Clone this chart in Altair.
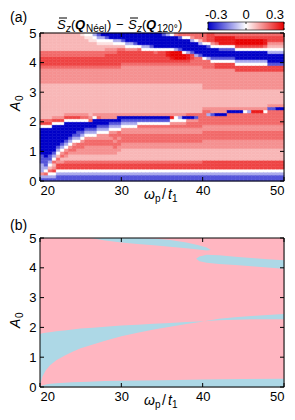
import altair as alt
import pandas as pd

FONT = "Liberation Sans"

# ---------------- axes / scales ----------------
OMEGA_RANGE = [20, 50]
A0_RANGE = [0, 5]
X_TICKS = [20, 30, 40, 50]
Y_TICKS = [0, 1, 2, 3, 4, 5]
CBAR_TICKS = [-0.3, 0.0, 0.3]
CBAR_LABELS = ["-0.3", "0", "0.3"]
CBAR_COLORS = ["#0000c8", "#ffffff", "#e80000"]

# ---------------- panel (a) heat map ----------------
OMEGA_STEP = 0.5   # column width in omega_p/t1
A0_STEP = 0.1      # row height in A0
N_ROWS = 50

LEVELS = {"B": -0.3, "b": -0.2, "c": -0.1, "w": 0.0, "1": 0.035, "2": 0.085,
          "3": 0.13, "4": 0.175, "5": 0.22, "6": 0.27, "7": 0.3}

# lower part shared by the columns between omega 40 and 50 (A0 = 0 ... 2.2)
L40 = "b:2 c:1 w:1 5:3 2:4 3:3 4:3 3:2 4:3"

# one string per omega column (20.0-20.5, 20.5-21.0, ...), cells from A0=0 upward, "level:count"
COLUMNS = [
    "b:1 c:1 3:1 c:3 b:3 B:9 w:1 5:1 4:1 2:12 3:5 4:1 5:3 4:2 2:6",
    "b:1 c:1 4:1 w:1 c:1 b:3 B:10 w:1 5:1 4:1 2:12 3:5 4:1 5:3 4:2 2:6",
    "b:1 c:1 w:1 4:1 2:1 w:1 c:1 b:2 B:9 w:1 5:1 4:1 2:12 3:5 4:1 5:3 4:2 2:6",
    "b:1 c:1 w:1 5:1 3:1 2:1 4:1 w:1 c:1 b:1 B:9 w:1 5:1 3:1 2:11 3:5 4:1 5:3 4:2 2:6",
    "b:2 c:1 w:1 5:2 3:1 4:1 2:1 w:1 c:1 b:1 B:7 w:1 5:1 3:1 2:11 3:5 4:1 5:3 4:2 2:6",
    "b:2 c:1 w:1 5:2 3:1 2:1 4:1 3:1 w:1 c:1 b:1 B:6 w:1 5:1 3:1 2:11 3:5 4:1 5:3 4:2 2:6",
    "b:2 c:1 w:1 5:2 4:1 2:1 3:1 4:1 3:1 w:1 c:1 b:1 B:6 w:1 5:1 3:1 2:10 3:5 4:1 5:3 4:2 2:6",
    "b:2 c:1 w:1 5:2 4:1 2:2 3:1 4:1 3:1 w:1 c:1 b:1 B:5 w:1 5:1 3:1 2:10 3:5 4:1 5:3 4:2 2:6",
    "b:2 c:1 w:1 5:2 4:1 2:2 3:1 4:2 3:1 w:1 c:1 b:1 B:4 w:1 5:1 3:1 2:10 3:5 4:1 5:3 4:2 2:6",
    "b:2 c:1 w:1 5:2 4:1 2:2 3:2 4:2 w:1 c:1 b:2 B:3 w:1 5:1 3:1 2:10 3:5 4:1 5:3 4:2 2:6",
    "b:2 c:1 w:1 5:2 4:1 2:2 3:2 4:2 3:1 w:1 c:1 b:1 B:3 w:1 4:1 3:1 2:10 3:5 4:1 5:3 4:2 2:5 1:1",
    "b:2 c:1 w:1 5:2 4:1 2:2 3:3 4:2 3:1 w:1 c:1 b:1 B:2 w:1 4:1 3:1 2:10 3:5 4:1 5:3 4:2 2:4 1:1 w:1",
    "b:2 c:1 w:1 5:2 4:1 2:2 3:3 4:2 3:1 w:1 c:1 b:1 B:2 4:1 3:1 2:11 3:5 4:1 5:3 4:2 2:3 1:2 w:1",
    "b:2 c:1 w:1 5:2 4:1 2:2 3:3 4:2 3:1 w:1 c:1 b:1 B:3 w:1 3:1 2:10 3:5 4:1 5:3 4:2 2:3 1:1 w:1 c:1",
    "b:2 c:1 w:1 5:2 4:1 2:2 3:3 4:2 3:2 w:1 c:1 b:1 B:2 4:1 3:1 2:10 3:5 4:1 5:3 4:2 2:2 1:1 w:1 c:1 b:1",
    "b:2 c:1 w:1 5:2 4:1 2:2 3:3 4:2 3:2 w:1 c:1 b:1 B:2 3:2 2:10 3:5 4:1 5:3 4:2 2:2 1:1 w:1 c:1 B:1",
    "b:2 c:1 w:1 5:2 4:1 2:2 3:3 4:2 3:2 w:1 c:1 b:1 B:2 3:2 2:10 3:5 4:1 5:4 4:1 3:1 2:1 1:1 w:1 b:1 B:1",
    "b:2 c:1 w:1 5:2 4:1 2:2 3:3 4:2 3:1 4:1 3:1 w:1 c:1 b:1 B:1 3:2 2:10 3:5 4:1 5:4 4:1 3:1 2:1 1:1 w:1 B:2",
    "b:2 c:1 w:1 5:2 4:1 2:2 3:2 4:2 3:1 4:2 3:1 w:1 c:1 b:1 B:1 3:2 2:10 3:5 4:1 5:4 4:1 3:1 2:1 w:1 c:1 B:2",
    "b:2 c:1 w:1 5:2 4:1 2:3 3:2 4:2 3:1 4:2 w:1 c:1 b:1 B:2 3:1 2:10 3:5 4:1 5:5 4:1 2:1 w:1 c:1 B:2",
    "b:2 c:1 w:1 5:2 4:1 2:4 3:2 4:3 3:2 w:1 c:1 b:1 B:1 3:1 2:10 3:6 4:1 5:4 4:1 2:1 w:1 b:1 B:2",
    "b:2 c:1 w:1 5:2 4:1 2:4 3:2 4:3 3:2 w:1 c:1 b:1 B:1 3:1 2:10 3:6 4:1 5:4 3:1 w:1 c:1 B:3",
    "b:2 c:1 w:1 5:2 4:1 2:4 3:2 4:3 3:2 w:1 c:1 b:1 B:1 3:1 2:10 3:6 4:1 5:4 3:1 w:1 c:1 B:3",
    "b:2 c:1 w:1 5:2 4:1 2:4 3:2 4:3 3:2 w:1 c:1 b:1 B:1 3:1 2:10 3:6 4:1 5:4 3:1 w:1 b:1 B:3",
    "b:2 c:1 w:1 5:2 4:1 2:4 3:2 4:3 3:2 4:1 w:1 b:1 B:1 3:1 2:10 3:6 4:1 5:4 4:1 w:1 B:4",
    "b:2 c:1 w:1 5:2 4:1 2:4 3:2 4:3 3:2 4:1 w:1 b:1 B:1 3:1 2:10 3:6 4:1 5:4 w:1 c:1 B:4",
    "b:2 c:1 w:1 5:2 4:1 2:4 3:2 4:3 3:2 4:1 w:1 b:1 B:1 3:1 2:10 3:6 4:1 5:4 w:1 c:1 B:4",
    "b:2 c:1 w:1 5:2 4:1 2:4 3:2 4:3 3:2 4:1 w:1 b:1 B:1 3:1 2:10 3:6 4:1 5:4 w:1 b:1 B:4",
    "b:2 c:1 w:1 5:2 4:1 2:4 3:2 4:3 3:2 4:1 w:1 b:1 B:1 3:1 2:10 3:6 4:1 5:3 4:1 w:1 B:5",
    "b:2 c:1 w:1 5:2 4:1 2:4 3:2 4:3 3:2 4:1 w:1 b:1 B:1 3:1 2:10 3:6 4:1 5:4 w:1 B:5",
    "b:2 c:1 w:1 5:2 4:1 2:4 3:2 4:3 3:2 4:1 w:1 b:1 B:1 3:1 2:10 3:6 4:1 5:4 w:1 B:4 b:1",
    "b:2 c:1 w:1 5:2 4:1 2:4 3:2 4:3 3:2 4:1 w:1 b:1 B:1 3:1 2:10 3:6 4:1 5:2 6:2 w:1 B:4 c:1",
    "b:2 c:1 w:1 5:2 4:1 2:4 3:2 4:3 3:2 4:1 3:1 w:1 6:1 3:1 2:10 3:6 4:1 5:1 6:1 7:2 w:1 B:4 w:1",
    "b:2 c:1 w:1 5:2 4:1 2:4 3:2 4:3 3:2 4:1 3:1 w:2 3:1 2:10 3:6 4:1 5:1 7:3 c:1 B:4 3:1",
    "b:2 c:1 w:1 5:2 4:1 2:4 3:2 4:3 3:2 4:1 3:1 w:1 c:1 3:1 2:10 3:6 4:1 5:1 7:3 b:1 B:3 b:1 4:1",
    "b:2 c:1 w:1 5:2 4:1 2:4 3:2 4:3 3:2 4:1 3:1 w:1 B:1 3:1 2:10 3:6 4:1 5:1 7:2 w:1 B:4 w:1 4:1",
    "b:2 c:1 w:1 5:2 4:1 2:4 3:2 4:3 3:2 4:2 3:1 B:1 4:1 2:10 3:6 4:1 5:1 6:2 c:1 B:4 w:1 4:1",
    "b:2 c:1 w:1 5:2 4:1 2:4 3:2 4:3 3:2 4:2 3:1 B:1 4:1 2:10 3:6 4:2 5:2 b:1 B:3 c:1 3:1 4:1",
    "b:2 c:1 w:1 5:2 4:1 2:4 3:2 4:3 3:2 4:2 3:1 b:1 4:1 2:10 3:6 4:3 c:1 B:4 w:1 4:2",
    "b:2 c:1 w:1 5:2 4:1 2:4 3:2 4:3 3:2 4:4 4:1 2:10 3:6 4:3 b:1 B:3 c:1 2:1 4:2",
    L40 + " 4:2 3:1 2:6 3:7 4:3 w:1 B:4 w:1 4:3",
    L40 + " c:1 4:1 3:1 2:6 3:7 4:3 c:1 B:3 b:1 w:1 5:3",
    L40 + " b:1 3:2 2:6 3:7 4:2 w:1 b:1 B:3 w:1 3:1 5:3",
    L40 + " B:1 3:2 2:6 3:7 5:2 w:1 b:1 B:3 w:1 4:1 6:2 4:1",
    L40 + " B:1 3:2 2:6 3:7 5:2 w:1 b:1 B:2 b:1 w:1 6:3 4:1",
    L40 + " B:1 3:2 2:6 3:7 5:2 w:1 b:1 B:2 b:1 w:1 6:3 4:1",
    L40 + " 4:1 B:1 3:1 2:6 3:7 5:2 w:1 b:1 B:2 b:1 w:1 6:3 4:1",
    L40 + " 4:1 B:1 3:1 2:6 3:7 5:2 w:1 b:1 B:2 b:1 w:1 6:3 4:1",
    L40 + " 4:1 B:1 3:1 2:6 3:6 5:2 w:1 c:1 B:3 w:1 5:1 7:2 5:1 4:1",
    L40 + " 4:1 B:1 3:1 2:6 3:6 5:2 w:1 c:1 B:3 w:1 5:1 7:2 5:1 4:1",
    L40 + " 4:1 w:1 3:1 2:6 3:6 5:2 w:1 c:1 B:3 w:1 5:1 7:2 5:1 4:1",
    L40 + " 4:1 c:1 3:1 2:6 3:6 5:2 w:1 c:1 B:3 w:1 5:1 7:2 5:1 4:1",
    L40 + " 4:1 6:1 3:1 2:6 3:6 5:2 w:1 c:1 B:3 w:1 5:1 7:2 5:1 4:1",
    L40 + " 4:1 6:1 3:1 2:6 3:6 5:2 w:1 c:1 B:3 w:1 5:1 7:2 5:1 4:1",
    L40 + " 4:1 6:1 3:1 2:6 3:6 5:2 w:1 c:1 B:3 w:1 5:1 7:2 5:1 4:1",
    L40 + " 4:1 w:1 3:1 2:6 3:6 5:2 w:1 c:1 B:3 w:1 4:1 6:2 5:1 4:1",
    L40 + " 4:2 b:1 3:1 2:5 3:6 5:2 b:1 B:3 c:1 w:1 2:1 3:1 5:2 4:1",
    L40 + " 4:2 b:1 3:1 2:5 3:6 5:2 b:1 B:3 c:1 w:1 2:1 3:1 5:2 4:1",
    L40 + " 4:2 B:1 3:1 2:5 3:6 5:2 b:1 B:3 c:1 w:1 2:1 3:1 5:2 4:1",
    L40 + " 4:2 B:1 3:1 2:5 3:6 5:2 b:1 B:3 c:1 w:1 2:1 3:1 5:2 4:1",
]

# ---------------- panel (b) blue regions (boundaries) ----------------
PINK = "#ffb6c1"
LBLUE = "#add8e6"
LOWBAND_W = [20, 20.5, 21, 22, 24, 26, 28, 30, 35, 40, 45, 50]
LOWBAND_HI = [0.03, 0.07, 0.1, 0.13, 0.16, 0.18, 0.2, 0.21, 0.23, 0.25, 0.27, 0.28]
WEDGE_W = [20, 20.3, 20.7, 21.2, 22, 23, 24, 25, 26.5, 28, 30, 32, 34, 36, 38, 39.5, 40.2]
WEDGE_LO = [0.05, 0.35, 0.55, 0.72, 0.9, 1.05, 1.18, 1.3, 1.43, 1.55, 1.7, 1.82, 1.93, 2.02, 2.11, 2.17, 2.21]
WEDGE_HI = [1.78, 1.8, 1.82, 1.84, 1.87, 1.9, 1.93, 1.96, 1.99, 2.02, 2.06, 2.09, 2.12, 2.15, 2.18, 2.2, 2.21]
RIGHT_W = [40.2, 42, 44, 46, 48, 50]
RIGHT_LO = [2.21, 2.24, 2.26, 2.27, 2.27, 2.27]
RIGHT_HI = [2.21, 2.29, 2.34, 2.38, 2.42, 2.45]
TOP1_W = [26.2, 28, 30, 32, 34, 36, 38, 39.5, 40.5, 41]
TOP1_LO = [5.0, 4.92, 4.85, 4.8, 4.76, 4.71, 4.66, 4.61, 4.58, 4.6]
TOP1_HI = [5.0, 5.0, 5.0, 5.0, 4.98, 4.93, 4.85, 4.76, 4.68, 4.6]
TOP2_W = [39.2, 39.6, 40.5, 42, 44, 46, 48, 50]
TOP2_LO = [4.3, 4.22, 4.17, 4.13, 4.09, 4.05, 4.01, 3.97]
TOP2_HI = [4.3, 4.38, 4.44, 4.42, 4.37, 4.33, 4.29, 4.25]

# ---------------- layout ----------------
W = 244
HA = 148
HB = 149
TICK = 4

# ---------------- build tables ----------------
heat_rows = []
for k, col in enumerate(COLUMNS):
    cells = []
    for tok in col.split():
        ch, n = tok.split(":")
        cells.extend([ch] * int(n))
    cells = (cells + [cells[-1]] * N_ROWS)[:N_ROWS]
    w0 = OMEGA_RANGE[0] + k * OMEGA_STEP
    for i, ch in enumerate(cells):
        heat_rows.append({"w0": w0, "w1": w0 + OMEGA_STEP,
                          "a0": round(i * A0_STEP, 3), "a1": round((i + 1) * A0_STEP, 3),
                          "v": LEVELS[ch]})
heat_df = pd.DataFrame(heat_rows)

b_rows = []
def add_region(name, ws, los, his):
    for w, lo, hi in zip(ws, los, his):
        b_rows.append({"region": name, "w": w, "lo": lo, "hi": hi})
add_region("low", LOWBAND_W, [A0_RANGE[0]] * len(LOWBAND_W), LOWBAND_HI)
add_region("wedge", WEDGE_W, WEDGE_LO, WEDGE_HI)
add_region("right", RIGHT_W, RIGHT_LO, RIGHT_HI)
add_region("top1", TOP1_W, TOP1_LO, TOP1_HI)
add_region("top2", TOP2_W, TOP2_LO, TOP2_HI)
b_df = pd.DataFrame(b_rows)

xticks_df = pd.DataFrame({"t": X_TICKS})
yticks_df = pd.DataFrame({"t": Y_TICKS})

xs = alt.Scale(domain=OMEGA_RANGE, nice=False, zero=False)
ys = alt.Scale(domain=A0_RANGE, nice=False, zero=False)
cs = alt.Scale(domain=CBAR_TICKS, range=CBAR_COLORS, clamp=True, interpolate="rgb")

def x_axis():
    return alt.Axis(values=X_TICKS, title=None, labelFlush=True, ticks=False, domain=False,
                    grid=False, labelFont=FONT, labelFontSize=13, labelColor="black",
                    labelPadding=3)

def y_axis():
    return alt.Axis(values=Y_TICKS, title=None, ticks=False, domain=False, grid=False,
                    labelFont=FONT, labelFontSize=13, labelColor="black", labelPadding=4)

ONE = alt.Data(values=[{"d": 0}])

def txt(x, y, s, size=13, style="normal", weight="normal", angle=0):
    return alt.Chart(ONE).mark_text(
        text=s, fontSize=size, fontStyle=style, fontWeight=weight, angle=angle,
        align="left", baseline="alphabetic", font=FONT, color="black"
    ).encode(x=alt.value(x), y=alt.value(y))

def overline(x1, x2, y):
    return alt.Chart(ONE).mark_rule(color="black", strokeWidth=1).encode(
        x=alt.value(x1), x2=alt.value(x2), y=alt.value(y))

def tick_layers(h):
    return [
        alt.Chart(xticks_df).mark_rule(color="black").encode(
            x=alt.X("t:Q", scale=xs, axis=x_axis()), y=alt.value(h), y2=alt.value(h - TICK)),
        alt.Chart(xticks_df).mark_rule(color="black").encode(
            x=alt.X("t:Q", scale=xs, axis=x_axis()), y=alt.value(0), y2=alt.value(TICK)),
        alt.Chart(yticks_df).mark_rule(color="black").encode(
            y=alt.Y("t:Q", scale=ys, axis=y_axis()), x=alt.value(0), x2=alt.value(TICK)),
        alt.Chart(yticks_df).mark_rule(color="black").encode(
            y=alt.Y("t:Q", scale=ys, axis=y_axis()), x=alt.value(W - TICK), x2=alt.value(W)),
    ]

def frame(h):
    return alt.Chart(ONE).mark_rect(fillOpacity=0, stroke="black", strokeWidth=1).encode(
        x=alt.value(0), x2=alt.value(W), y=alt.value(0), y2=alt.value(h))

def axis_titles(h, ay):
    base = h + 18
    return [
        txt(104, base, "ω", 14, "italic"),
        txt(115, base + 3, "p", 10),
        txt(122, base, "/", 14),
        txt(128, base, "t", 14, "italic"),
        txt(132, base + 3, "1", 10),
        txt(-20, ay, "A", 14, "italic", angle=270),
        txt(-17, ay - 10, "0", 10, angle=270),
    ]

# ---------------- panel (a) ----------------
heat = alt.Chart(heat_df).mark_rect(strokeWidth=0.5).encode(
    x=alt.X("w0:Q", scale=xs, axis=x_axis()),
    x2="w1",
    y=alt.Y("a0:Q", scale=ys, axis=y_axis()),
    y2="a1",
    fill=alt.Fill("v:Q", scale=cs, legend=None),
    stroke=alt.Stroke("v:Q", scale=cs, legend=None),
)

main_a = alt.layer(heat, *tick_layers(HA), frame(HA), *axis_titles(HA, 78))

# colour bar with its own x scale
cb_scale = alt.Scale(domain=[CBAR_TICKS[0], CBAR_TICKS[-1]], range=[168, W], nice=False, zero=False)
span = CBAR_TICKS[-1] - CBAR_TICKS[0]
grad = alt.Gradient(
    gradient="linear", x1=0, x2=1, y1=0, y2=0,
    stops=[alt.GradientStop(color=c, offset=(t - CBAR_TICKS[0]) / span)
           for t, c in zip(CBAR_TICKS, CBAR_COLORS)],
)
cbar_df = pd.DataFrame({"lo": [CBAR_TICKS[0]], "hi": [CBAR_TICKS[-1]]})
cbar_rect = alt.Chart(cbar_df).mark_rect(fill=grad, stroke="black", strokeWidth=0.6).encode(
    x=alt.X("lo:Q", scale=cb_scale, axis=None), x2="hi",
    y=alt.value(-11), y2=alt.value(-3))
cb_tick_df = pd.DataFrame({"t": CBAR_TICKS})
cbar_ticks = [
    alt.Chart(cb_tick_df).mark_rule(color="black", strokeWidth=0.8).encode(
        x=alt.X("t:Q", scale=cb_scale, axis=None), y=alt.value(-11), y2=alt.value(-9)),
    alt.Chart(cb_tick_df).mark_rule(color="black", strokeWidth=0.8).encode(
        x=alt.X("t:Q", scale=cb_scale, axis=None), y=alt.value(-5), y2=alt.value(-3)),
]
cbar_labels = []
for t, lab, al, dx in zip(CBAR_TICKS, CBAR_LABELS, ["left", "center", "right"], [-3, 0, 0]):
    cbar_labels.append(
        alt.Chart(pd.DataFrame({"t": [t]})).mark_text(
            text=lab, align=al, baseline="alphabetic", fontSize=13, font=FONT,
            color="black", dx=dx
        ).encode(x=alt.X("t:Q", scale=cb_scale, axis=None), y=alt.value(-14))
    )
cbar = alt.layer(cbar_rect, *cbar_ticks, *cbar_labels)

title_a = [
    txt(-30, -11, "(a)", 14),
    txt(17, -4, "S", 13, "italic"),
    txt(26, -1, "z", 10, "italic"),
    txt(31, -4, "(", 13),
    txt(35, -4, "Q", 13, "italic", "bold"),
    txt(46, -1, "Néel", 10),
    txt(67, -4, ")", 13),
    txt(76, -4, "−", 13),
    txt(88, -4, "S", 13, "italic"),
    txt(97, -1, "z", 10, "italic"),
    txt(102, -4, "(", 13),
    txt(106, -4, "Q", 13, "italic", "bold"),
    txt(117, -1, "120°", 10),
    txt(138, -4, ")", 13),
    overline(19, 27, -15),
    overline(90, 98, -15),
]

panel_a = alt.layer(main_a, cbar, *title_a).resolve_scale(x="independent").properties(
    width=W, height=HA)

# ---------------- panel (b) ----------------
bg_b = alt.Chart(ONE).mark_rect(fill=PINK).encode(
    x=alt.value(0), x2=alt.value(W), y=alt.value(0), y2=alt.value(HB))
areas = alt.Chart(b_df).mark_area(color=LBLUE, interpolate="linear").encode(
    x=alt.X("w:Q", scale=xs, axis=x_axis()),
    y=alt.Y("lo:Q", scale=ys, axis=y_axis()),
    y2="hi",
    detail="region:N",
)
panel_b = alt.layer(bg_b, areas, *tick_layers(HB), frame(HB), *axis_titles(HB, 90),
                    txt(-30, -8, "(b)", 14)).properties(width=W, height=HB)

chart = alt.vconcat(panel_a, panel_b, spacing=13).properties(
    padding={"left": 0, "top": 0, "right": 0, "bottom": 0}
).configure_view(strokeWidth=0).configure(font=FONT)

chart.save("out.html", embed_options={"renderer": "svg", "actions": False})
